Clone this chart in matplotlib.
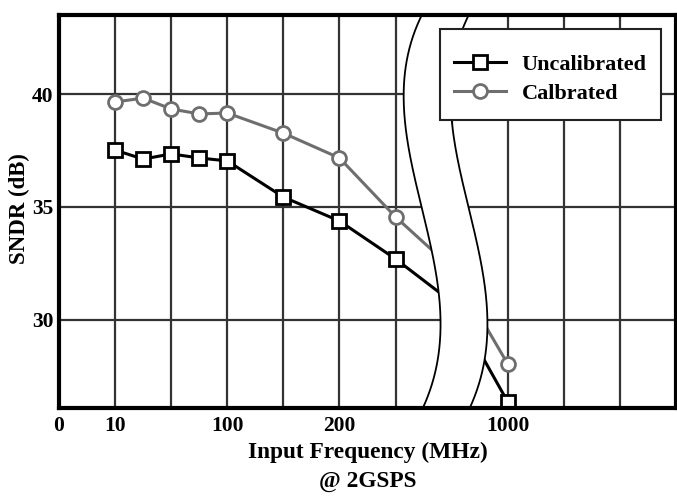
import numpy as np
import matplotlib
matplotlib.use("Agg")
import matplotlib.pyplot as plt
from matplotlib.patches import Polygon, Rectangle

# ---- data (x positions on the broken, non-linear axis) ----
x_pos = [1, 1.5, 2, 2.5, 3, 4, 5, 6, 7, 8]
uncalibrated = [37.52, 37.12, 37.35, 37.17, 37.04, 35.44, 34.38, 32.70, 30.8, 26.37]
calibrated = [39.65, 39.82, 39.34, 39.12, 39.16, 38.27, 37.17, 34.56, 32.3, 28.05]
visible_marks = [0, 1, 2, 3, 4, 5, 6, 7, 9]  # point at x=7 is hidden by axis break

xtick_pos = [0, 1, 3, 5, 8]
xtick_labels = ["0", "10", "100", "200", "1000"]
ytick_pos = [30, 35, 40]
series_names = ["Uncalibrated", "Calbrated"]

plt.rcParams['font.family'] = ['Liberation Serif', 'DejaVu Serif']
plt.rcParams['font.weight'] = 'bold'

W, H = 677, 496
fig = plt.figure(figsize=(W/100, H/100), dpi=100)
ax = fig.add_axes([59/W, 1-408/H, 617/W, 393/H])

ax.set_xlim(0, 11)
ax.set_ylim(26.1, 43.5)

ax.set_xticks(xtick_pos)
ax.set_xticklabels(xtick_labels)
ax.set_xticks(np.arange(0, 12), minor=True)
ax.set_yticks(ytick_pos)
ax.tick_params(which='both', length=0, labelsize=15.5)
ax.tick_params(axis='x', pad=6)
ax.tick_params(axis='y', pad=4)
ax.grid(True, which='both', color='#333333', linewidth=1.6, zorder=0.5)
ax.set_axisbelow(True)

ax.plot(x_pos, uncalibrated, color='black', linewidth=2.2, marker='s', markersize=10,
        markerfacecolor='white', markeredgecolor='black', markeredgewidth=2,
        markevery=visible_marks, label=series_names[0], zorder=2)
ax.plot(x_pos, calibrated, color='#6e6e6e', linewidth=2.2, marker='o', markersize=10,
        markerfacecolor='white', markeredgecolor='#6e6e6e', markeredgewidth=2,
        markevery=visible_marks, label=series_names[1], zorder=2)

# ---- axis break band (S-shaped white band), in axes fraction ----
ctrl_y = np.array([1.0, 0.720, 0.529, 0.377, 0.262, 0.122, 0.0])
ctrl_x = np.array([0.588, 0.562, 0.583, 0.609, 0.617, 0.613, 0.590])
coef = np.polyfit(ctrl_y, ctrl_x, 4)
yy = np.linspace(0, 1, 200)
xl = np.polyval(coef, yy)
xr = xl + 0.076
band = Polygon(np.column_stack([np.concatenate([xl, xr[::-1]]),
                                np.concatenate([yy, yy[::-1]])]),
               closed=True, facecolor='white', edgecolor='none',
               transform=ax.transAxes, zorder=3)
ax.add_patch(band)
ax.plot(xl, yy, color='black', linewidth=1.3, transform=ax.transAxes, zorder=3.1)
ax.plot(xr, yy, color='black', linewidth=1.3, transform=ax.transAxes, zorder=3.1)

for s in ax.spines.values():
    s.set_linewidth(3)
    s.set_zorder(4)

fig.text(19/W, 1-209/H, "SNDR (dB)", rotation=90, ha='center', va='center',
         fontsize=16.5, fontweight='bold')
fig.text(367.5/W, 1-452/H, "Input Frequency (MHz)", ha='center', va='center',
         fontsize=16.8, fontweight='bold')
fig.text(367.5/W, 1-481/H, "@ 2GSPS", ha='center', va='center',
         fontsize=16.8, fontweight='bold')

# legend box (frame drawn separately to match its proportions)
bx0, bx1 = (440-59)/617, (661-59)/617
by1, by0 = 1-(29-15)/393, 1-(120-15)/393
frame = Rectangle((bx0, by0), bx1-bx0, by1-by0, transform=ax.transAxes,
                  facecolor='white', edgecolor='#222222', linewidth=1.5, zorder=4.9)
ax.add_patch(frame)
leg = ax.legend(loc='center', bbox_to_anchor=((bx0+bx1)/2, 1-(79-15)/393), fontsize=16,
                frameon=False, handlelength=2.35, borderpad=0.6, labelspacing=0.4,
                handletextpad=0.7, borderaxespad=0)
leg.set_zorder(5)

fig.savefig("out.png", dpi=100)
